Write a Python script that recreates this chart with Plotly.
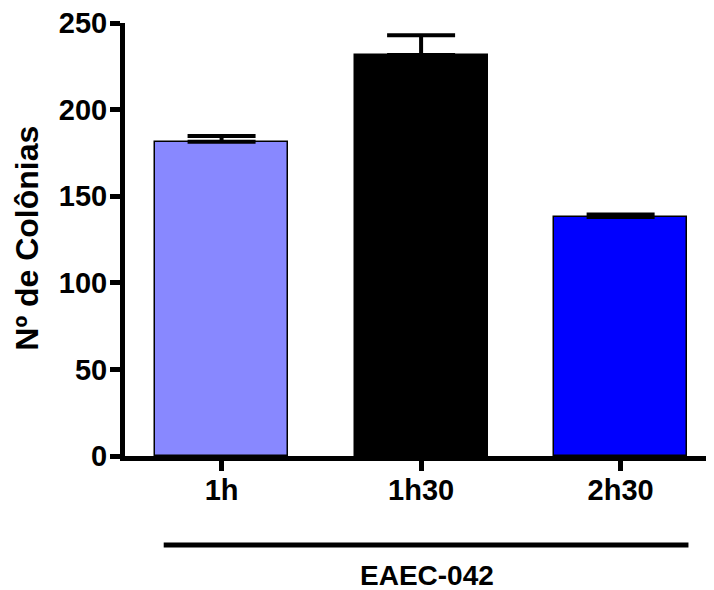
import plotly.graph_objects as go

categories = ["1h", "1h30", "2h30"]
means = [181.5, 231.5, 138.0]
errors = [3.3, 11.5, 1.5]
colors = ["#8888FF", "#000000", "#0000FF"]
y_ticks = [0, 50, 100, 150, 200, 250]
y_title = "Nº de Colônias"
group_label = "EAEC-042"

FONT = "Liberation Sans, Arial, sans-serif"

fig = go.Figure()
fig.add_trace(go.Bar(
    x=[0, 1, 2],
    y=means,
    width=0.667,
    marker=dict(color=colors, line=dict(color="black", width=1.5)),
    error_y=dict(type="data", symmetric=False, array=errors,
                 arrayminus=[0, 0, 0], color="black", thickness=4, width=34),
    showlegend=False,
))

fig.update_layout(
    width=714, height=590,
    margin=dict(l=117, r=8, t=15, b=142, autoexpand=False),
    paper_bgcolor="white", plot_bgcolor="white",
    bargap=0,
    xaxis=dict(
        range=[-0.484, 2.468],
        tickvals=[0, 1, 2], ticktext=categories,
        showline=True, linecolor="black", linewidth=5,
        ticks="outside", ticklen=10, tickwidth=5, tickcolor="black",
        ticklabelstandoff=-6, automargin=False,
        showgrid=False, zeroline=False,
        tickfont=dict(family=FONT, size=29, color="black", weight="bold"),
    ),
    yaxis=dict(
        range=[0, 250.01],
        tickvals=y_ticks,
        showline=True, linecolor="black", linewidth=5,
        ticks="outside", ticklen=10, tickwidth=5, tickcolor="black",
        ticklabelstandoff=-3, automargin=False,
        ticklabeloverflow="allow",
        showgrid=False, zeroline=False,
        tickfont=dict(family=FONT, size=29, color="black", weight="bold"),
    ),
)

fig.add_annotation(
    text=y_title, textangle=-90, showarrow=False,
    xref="paper", yref="paper", x=-0.1655, y=0.503,
    xanchor="center", yanchor="middle",
    font=dict(family=FONT, size=32, color="black", weight="bold"),
)

fig.add_shape(
    type="line", xref="x", yref="paper",
    x0=-0.29, x1=2.34, y0=-0.2055, y1=-0.2055,
    line=dict(color="black", width=5),
)

fig.add_annotation(
    text=group_label, showarrow=False,
    xref="x", yref="paper", x=1.03, y=-0.275,
    xanchor="center", yanchor="middle",
    font=dict(family=FONT, size=28, color="black", weight="bold"),
)

fig.write_html("out.html")
